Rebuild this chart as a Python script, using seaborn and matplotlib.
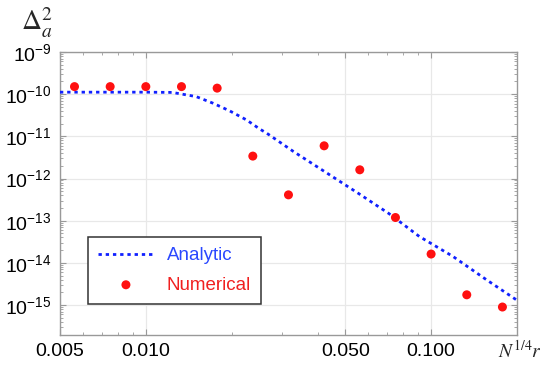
import numpy as np
import pandas as pd
import matplotlib
matplotlib.use("Agg")
import matplotlib.pyplot as plt
import matplotlib.ticker as mticker
import seaborn as sns

# analytic curve
analytic_x = [0.005, 0.00684, 0.0100, 0.01238, 0.0150, 0.01718, 0.01967, 0.02254,
              0.02512, 0.02652, 0.03292, 0.04318, 0.0566, 0.0713, 0.0909, 0.1193,
              0.1563, 0.2028]
analytic_y = [1.115e-10, 1.115e-10, 1.115e-10, 1.10e-10, 8.77e-11, 6.12e-11, 4.02e-11,
              2.45e-11, 1.48e-11, 1.19e-11, 4.37e-12, 1.34e-12, 4.11e-13, 1.46e-13,
              4.23e-14, 1.42e-14, 3.98e-15, 1.22e-15]

# numerical points
numerical_x = [0.005623, 0.007499, 0.01, 0.013335, 0.017783, 0.023714, 0.031623,
               0.04217, 0.056234, 0.074989, 0.1, 0.133352, 0.177828]
numerical_y = [1.51e-10, 1.51e-10, 1.51e-10, 1.51e-10, 1.39e-10, 3.4e-12, 4.1e-13,
               5.96e-12, 1.61e-12, 1.19e-13, 1.62e-14, 1.75e-15, 8.98e-16]

x_major = [0.005, 0.01, 0.05, 0.1]

analytic = pd.DataFrame({"x": analytic_x, "y": analytic_y})
numerical = pd.DataFrame({"x": numerical_x, "y": numerical_y})

sns.set_style("ticks")
plt.rcParams["font.family"] = ["Liberation Sans", "DejaVu Sans"]
plt.rcParams["mathtext.fontset"] = "stix"

fig = plt.figure(figsize=(5.45, 3.7), dpi=100)
ax = fig.add_axes([0.110, 0.0946, 0.8386, 0.7649])

blue = "#1020ff"
red = "#ff1010"

sns.lineplot(data=analytic, x="x", y="y", ax=ax, color=blue, linewidth=2.0,
             linestyle=(0, (1.2, 1.4)), label="Analytic", zorder=3)
sns.scatterplot(data=numerical, x="x", y="y", ax=ax, color=red, s=42,
                edgecolor="none", label="Numerical", zorder=4)

ax.set_xscale("log")
ax.set_yscale("log")
ax.set_xlim(0.005, 0.2)
ax.set_ylim(1.95e-16, 1e-9)

ax.xaxis.set_major_locator(mticker.FixedLocator(x_major))
ax.xaxis.set_major_formatter(mticker.FormatStrFormatter("%.3f"))
ax.xaxis.set_minor_locator(mticker.LogLocator(base=10, subs=np.arange(2, 10)))
ax.xaxis.set_minor_formatter(mticker.NullFormatter())
ax.yaxis.set_major_locator(mticker.LogLocator(base=10, numticks=20))
ax.yaxis.set_minor_locator(mticker.LogLocator(base=10, subs=np.arange(2, 10), numticks=20))
ax.yaxis.set_minor_formatter(mticker.NullFormatter())

ax.grid(True, which="major", color="#e8e8e8", linewidth=0.9)
ax.set_axisbelow(True)
ax.tick_params(which="both", direction="in", top=True, right=True,
               color="#999999", labelsize=14, labelcolor="black")
ax.tick_params(which="major", length=4.5, width=0.8, pad=6)
ax.tick_params(which="minor", length=2.5, width=0.6)
for sp in ax.spines.values():
    sp.set_color("#999999")
    sp.set_linewidth(1.0)

ax.set_xlabel("")
ax.set_ylabel("")
fig.text(0.038, 0.938, r"$\Delta_a^2$", fontsize=20, ha="left", va="center")
fig.text(0.914, 0.052, r"$N^{1/4}r$", fontsize=14, ha="left", va="center")

leg = ax.legend(loc="lower left", bbox_to_anchor=(0.0613, 0.1095), borderaxespad=0,
                fontsize=13.5, handlelength=2.95, handletextpad=0.7, labelspacing=0.65,
                borderpad=0.55, fancybox=False, framealpha=1, edgecolor="#333333")
leg.get_frame().set_linewidth(1.1)
leg.get_texts()[0].set_color("#2a48ff")
leg.get_texts()[1].set_color("#f02020")

fig.savefig("out.png", dpi=100)
